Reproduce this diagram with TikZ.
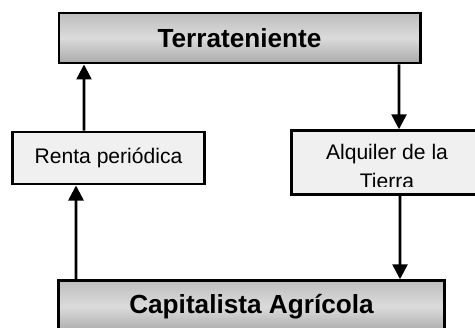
\documentclass[tikz,border=0pt]{standalone}
\usepackage{fontspec}
\setsansfont{Liberation Sans}
\usetikzlibrary{arrows.meta,positioning}
\definecolor{shadetop}{HTML}{BEBEBE}
\definecolor{shademid}{HTML}{DBDBDB}
\definecolor{shadebot}{HTML}{AAAAAA}
\definecolor{boxfill}{HTML}{F0F0F0}

\begin{document}
\begin{tikzpicture}[
    mainbox/.style={draw=black, line width=1.7pt, top color=shadetop, bottom color=shadebot, middle color=shademid, font=\sffamily\bfseries\fontsize{14.9}{18}\selectfont, inner sep=0pt},
    sidebox/.style={draw=black, line width=1.7pt, fill=boxfill, font=\sffamily\fontsize{12}{16.5}\selectfont, inner sep=0pt},
    flow/.style={-{Triangle[length=3mm, width=3mm]}, line width=1.5pt}
]
    \useasboundingbox (0,0) rectangle (9.5,6.54);

    % Owner and tenant
    \node[mainbox, minimum width=7.22cm, minimum height=1.0cm] (terra) at (4.79,5.78) {Terrateniente};
    \node[mainbox, minimum width=7.73cm, minimum height=1.03cm] (capit) at (5.03,0.41) {Capitalista Agrícola};

    % Payments
    \node[sidebox, minimum width=3.83cm, minimum height=1.04cm] (renta) at (2.17,3.38) {Renta periódica};
    \node[sidebox, minimum width=3.81cm, minimum height=1.27cm] (alq) at (7.74,3.29) {};
    \begin{scope}
        \clip ([yshift=0.19cm]alq.south west) rectangle (alq.north east);
        \node[font=\sffamily\fontsize{12}{16.5}\selectfont, align=center, inner sep=0pt] (alqtext) at (7.74,3.21) {Alquiler de la\\Tierra};
    \end{scope}

    % Arrows
    \draw[flow] ([xshift=-0.49cm]renta.north) -- ([xshift=-3.11cm]terra.south);
    \draw[flow] ([xshift=3.19cm]terra.south) -- ([xshift=0.24cm]alq.north);
    \draw[flow] ([xshift=0.26cm]alq.south) -- ([xshift=2.97cm]capit.north);
    \draw[flow] ([xshift=-3.51cm]capit.north) -- ([xshift=-0.65cm]renta.south);
\end{tikzpicture}
\end{document}
